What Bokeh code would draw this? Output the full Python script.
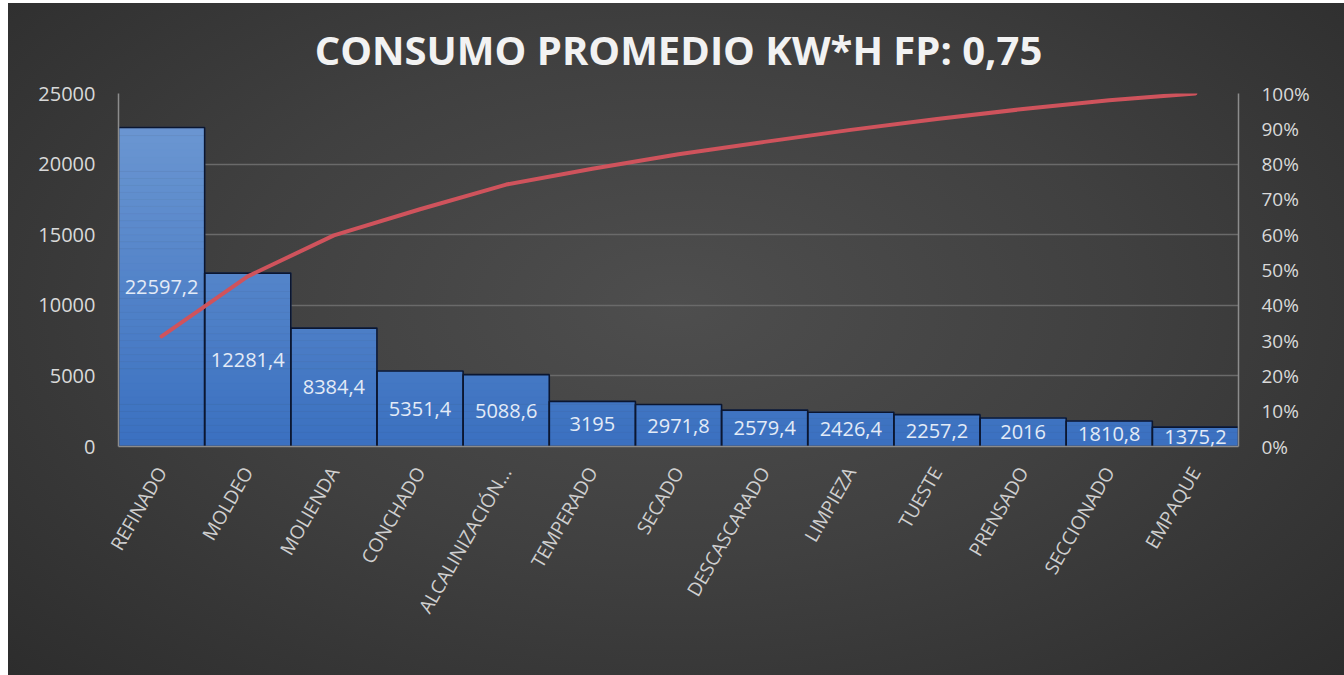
import math
from bokeh.plotting import figure
from bokeh.models import (Range1d, LinearAxis, FixedTicker, PrintfTickFormatter,
                          ColumnDataSource, LabelSet, FactorRange)
from bokeh.core.properties import value
from bokeh.embed import file_html
from bokeh.resources import INLINE

# ---- data ----
categories = ["REFINADO", "MOLDEO", "MOLIENDA", "CONCHADO", "ALCALINIZACIÓN...",
              "TEMPERADO", "SECADO", "DESCASCARADO", "LIMPIEZA", "TUESTE",
              "PRENSADO", "SECCIONADO", "EMPAQUE"]
consumo = [22597.2, 12281.4, 8384.4, 5351.4, 5088.6, 3195, 2971.8, 2579.4,
           2426.4, 2257.2, 2016, 1810.8, 1375.2]
acumulado_pct = [31.2, 48.2, 59.8, 67.2, 74.2, 78.7, 82.8, 86.3, 89.7, 92.8,
                 95.6, 98.1, 100.0]
left_ticks = [0, 5000, 10000, 15000, 20000, 25000]
right_ticks = [0, 10, 20, 30, 40, 50, 60, 70, 80, 90, 100]
title_text = "CONSUMO PROMEDIO KW*H FP: 0,75"

FONT = "Open Sans"

p = figure(width=1336, height=672, x_range=FactorRange(*categories, range_padding=0),
           y_range=Range1d(0, 25000), output_backend="svg", toolbar_location=None,
           min_border_left=110, min_border_right=106, min_border_top=90,
           min_border_bottom=229)
p.extra_y_ranges = {"pct": Range1d(0, 100)}

p.styles = {"background": "radial-gradient(ellipse 75% 85% at 50% 45%, #4e4e4e 0%, #404040 45%, #2a2a2a 100%)",
            "margin-left": "8px", "margin-top": "3px"}
p.background_fill_color = None
p.border_fill_color = None
p.outline_line_color = None

# title
p.title.text = title_text
p.title.align = "center"
p.title.text_font = FONT
p.title.text_font_size = "40px"
p.title.text_font_style = "bold"
p.title.text_color = "#f2f2f2"
p.title.standoff = 33

# grid
p.xgrid.grid_line_color = None
p.ygrid.grid_line_color = "#6a6a6a"
p.ygrid.grid_line_width = 1.5
p.ygrid.ticker = FixedTicker(ticks=left_ticks)

# bars with vertical gradient (strips coloured by height)
def lerp(c0, c1, t):
    return "#%02x%02x%02x" % tuple(int(round(a + (b - a) * t)) for a, b in zip(c0, c1))

bottom_col = (0x3a, 0x70, 0xc0)
top_col = (0x70, 0x9a, 0xd3)
step = 500
sx, sb, st, sc = [], [], [], []
for cat, v in zip(categories, consumo):
    lo = 0
    while lo < v:
        hi = min(lo + step, v)
        sx.append(cat); sb.append(lo); st.append(hi)
        sc.append(lerp(bottom_col, top_col, ((lo + hi) / 2) / 25000))
        lo += step
p.vbar(x=sx, bottom=sb, top=st, width=1.0, fill_color=sc, line_color=sc, line_width=0.6)
p.vbar(x=categories, top=consumo, width=1.0, fill_color=None, line_color="#0b1630",
       line_width=1.6)

# data labels
def fmt(v):
    s = ("%.1f" % v).rstrip("0").rstrip(".")
    return s.replace(".", ",")

src = ColumnDataSource(dict(x=categories, y=[v / 2 for v in consumo],
                            t=[fmt(v) for v in consumo]))
p.add_layout(LabelSet(x="x", y="y", text="t", source=src, text_align="center",
                      text_baseline="middle", text_color="#e3ebf7",
                      text_font=value(FONT), text_font_size=value("20px")))

# cumulative line
p.line(categories, acumulado_pct, y_range_name="pct", line_color="#cf535c",
       line_width=4, line_cap="round", line_join="round")

# axes styling
def style_axis(ax):
    ax.axis_line_color = "#8c8c8c"
    ax.axis_line_width = 1.5
    ax.major_tick_line_color = None
    ax.minor_tick_line_color = None
    ax.major_label_text_color = "#d9d9d9"
    ax.major_label_text_font = FONT

yl = p.yaxis[0]
yl.ticker = FixedTicker(ticks=left_ticks)
style_axis(yl)
yl.major_label_text_font_size = "20px"
yl.major_label_standoff = 17

yr = LinearAxis(y_range_name="pct", ticker=FixedTicker(ticks=right_ticks),
                formatter=PrintfTickFormatter(format="%d%%"))
style_axis(yr)
yr.major_label_text_font_size = "19px"
yr.major_label_standoff = 17
p.add_layout(yr, "right")

xa = p.xaxis[0]
style_axis(xa)
xa.major_label_orientation = math.radians(60)
xa.major_label_text_font_size = "19px"
xa.major_label_text_color = "#cfcfcf"
xa.major_label_standoff = 16

open("out.html", "w").write(file_html(p, INLINE))
